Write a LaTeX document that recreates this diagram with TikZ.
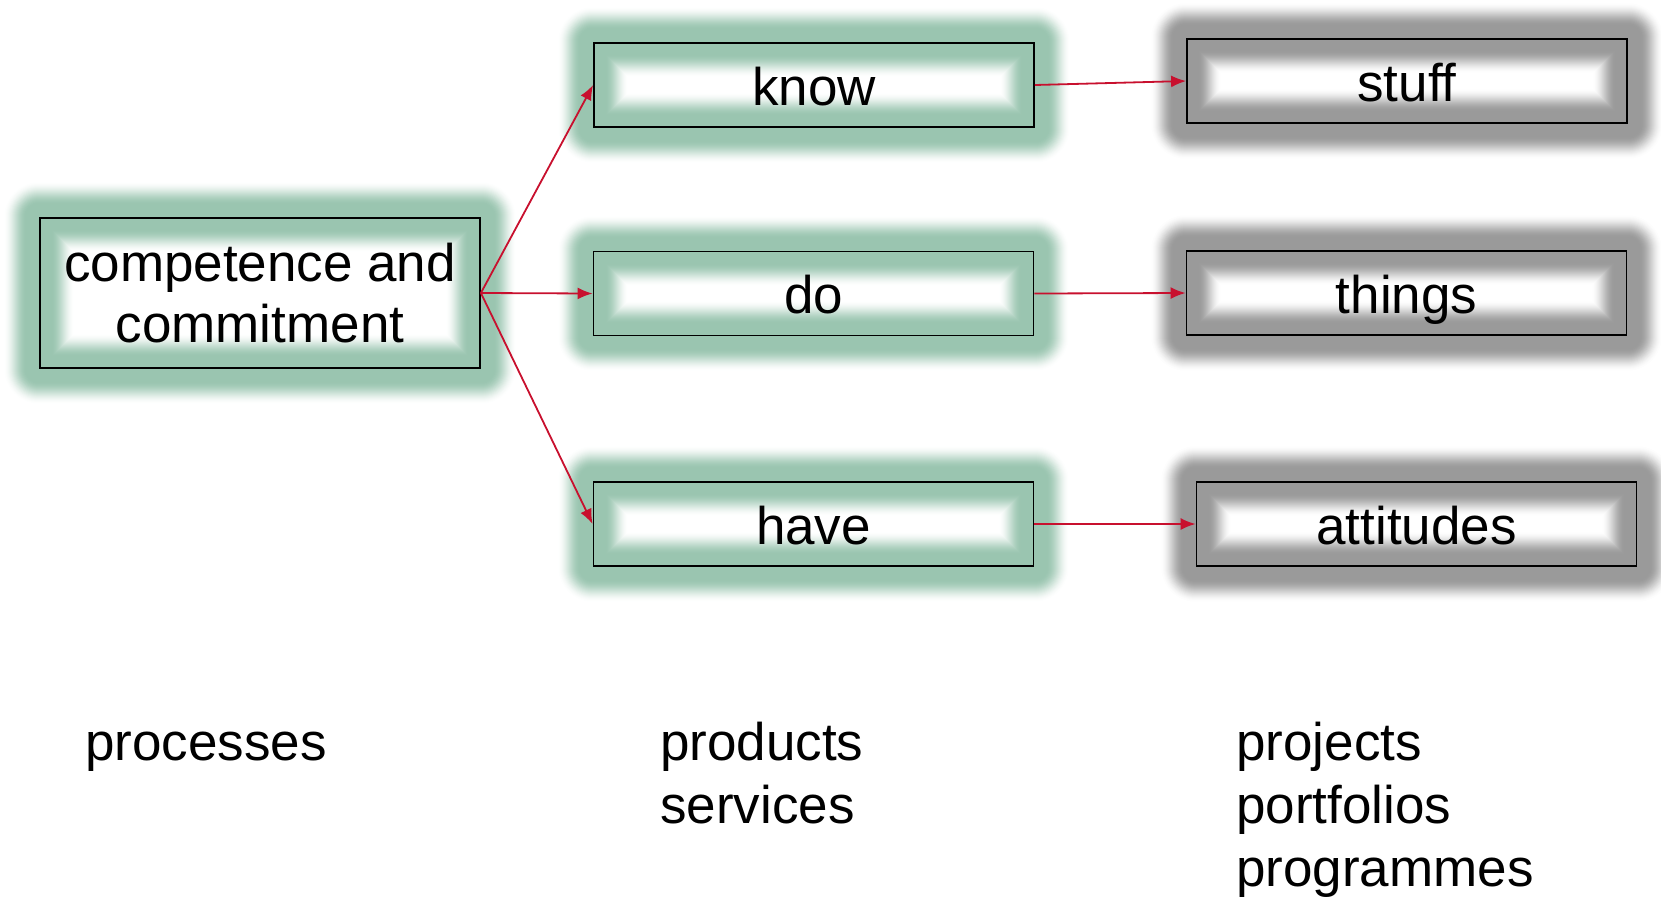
\documentclass[tikz,border=0pt]{standalone}
\usepackage{fontspec}
\setmainfont{Liberation Sans}
\usetikzlibrary{arrows.meta,backgrounds}
\definecolor{glowgreen}{RGB}{154,197,176}
\definecolor{glowgray}{RGB}{154,154,154}
\definecolor{arrowred}{RGB}{200,16,46}
\tikzset{
  box/.style={draw=black, line width=1.8pt, minimum width=440pt, minimum height=84pt, inner sep=0pt, align=center, font=\fontsize{53}{61.5}\selectfont},
  onebox/.style={box, text height=48pt, text depth=8pt},
  lbl/.style={inner sep=0pt, align=left, font=\fontsize{53}{63}\selectfont},
  conn/.style={draw=arrowred, line width=1.8pt, -{Latex[length=15pt,width=12pt]}}
}
\begin{document}
\begin{tikzpicture}[x=1pt,y=-1pt]
\useasboundingbox (0,0) rectangle (1661,898);
\node[box, minimum height=150pt] (comp) at (260,293) {competence and\\commitment};
\node[onebox] (know) at (814,85) {know};
\node[onebox] (do) at (813.5,293.5) {do};
\node[onebox] (have) at (813.5,524) {have};
\node[onebox] (stuff) at (1407,81) {stuff};
\node[onebox] (things) at (1406.5,293) {things};
\node[onebox] (att) at (1416.5,524) {attitudes};
\begin{scope}[on background layer]
\foreach \n/\c in {comp/glowgreen,know/glowgreen,do/glowgreen,have/glowgreen,stuff/glowgray,things/glowgray,att/glowgray}{
  \foreach \i in {0,...,22}{
    \pgfmathsetmacro\w{70-2*\i}
    \pgfmathsetmacro\s{(\i+1)/23}
    \pgfmathsetmacro\p{100*\s*\s*(3-2*\s)}
    \draw[line width=\w pt, color=\c!\p!white, line join=round] (\n.north west) rectangle (\n.south east);
  }
}
\end{scope}
\draw[conn] (comp.east) -- (know.west);
\draw[conn] (comp.east) -- (do.west);
\draw[conn] (comp.east) -- (have.west);
\draw[conn] (know.east) -- (stuff.west);
\draw[conn] (do.east) -- (things.west);
\draw[conn] (have.east) -- (att.west);
\node[lbl, anchor=base west] (proc) at (85,760) {processes};
\node[lbl, anchor=base west] (prod) at (660,823) {products\\services};
\node[lbl, anchor=base west] (proj) at (1236,886) {projects\\portfolios\\programmes};
\end{tikzpicture}
\end{document}
